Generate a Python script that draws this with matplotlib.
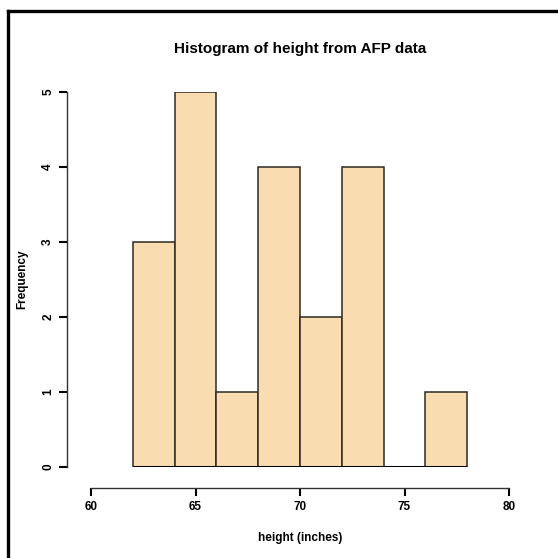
import matplotlib
matplotlib.use("Agg")
import matplotlib.pyplot as plt
from matplotlib.lines import Line2D

bin_edges = [62, 64, 66, 68, 70, 72, 74, 76, 78]
counts = [3, 5, 1, 4, 2, 4, 0, 1]
x_ticks = [60, 65, 70, 75, 80]
y_ticks = [0, 1, 2, 3, 4, 5]

plt.rcParams["font.family"] = ["Liberation Sans", "DejaVu Sans"]

fig = plt.figure(figsize=(5.58, 5.58), dpi=100)
ax = fig.add_axes([91 / 558, 91 / 558, 418 / 558, 375 / 558])

lefts = bin_edges[:-1]
widths = [b - a for a, b in zip(bin_edges[:-1], bin_edges[1:])]
ax.bar(lefts, counts, width=widths, align="edge", color="#F9DDB1",
       edgecolor="#2e2a25", linewidth=1.1)
# zero-height bars still leave their outline on the baseline
ax.plot([bin_edges[0], bin_edges[-1]], [0, 0], color="black", lw=2.2,
        solid_capstyle="butt")

ax.set_xlim(60, 80)
ax.set_ylim(0, 5)
for s in ["top", "right"]:
    ax.spines[s].set_visible(False)
ax.spines["left"].set_position(("outward", 17))
ax.spines["bottom"].set_position(("outward", 15))
ax.spines["left"].set_bounds(0, 5)
ax.spines["bottom"].set_bounds(60, 80)
for s in ["left", "bottom"]:
    ax.spines[s].set_color("#333333")
    ax.spines[s].set_linewidth(1.0)

ax.set_xticks(x_ticks)
ax.set_yticks(y_ticks)
ax.set_xticklabels([str(v) for v in x_ticks], fontsize=8.5, fontweight="bold")
ax.set_yticklabels([str(v) for v in y_ticks], fontsize=8.5, fontweight="bold",
                   rotation=90, va="center")
ax.tick_params(axis="both", length=5.5, width=1.5, color="black", pad=4)

ax.set_xlabel("height (inches)", fontsize=8.5, fontweight="bold", labelpad=14)
ax.set_ylabel("Frequency", fontsize=8.5, fontweight="bold", labelpad=10)
ax.set_title("Histogram of height from AFP data", fontsize=11,
             fontweight="bold", pad=28)

# frame fragment on the top and left edges
fig.add_artist(Line2D([8 / 558, 8 / 558], [0, 1 - 11 / 558], color="black",
                      lw=2.4, transform=fig.transFigure))
fig.add_artist(Line2D([8 / 558, 1], [1 - 11 / 558, 1 - 11 / 558],
                      color="black", lw=2.4, transform=fig.transFigure))

fig.savefig("out.png", dpi=100)
